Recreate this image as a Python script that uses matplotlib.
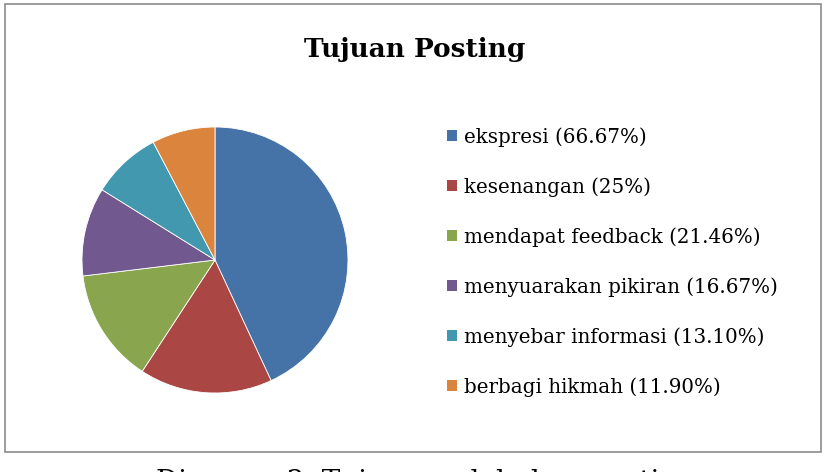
import matplotlib.pyplot as plt
from matplotlib.patches import Rectangle, Patch

# Data
labels = ['ekspresi (66.67%)', 'kesenangan (25%)', 'mendapat feedback (21.46%)',
          'menyuarakan pikiran (16.67%)', 'menyebar informasi (13.10%)', 'berbagi hikmah (11.90%)']
values = [66.67, 25, 21.46, 16.67, 13.10, 11.90]
colors = ['#4572A7', '#AA4643', '#89A54E', '#71588F', '#4198AF', '#DB843D']

W, H = 828, 472
fig = plt.figure(figsize=(W / 100, H / 100), dpi=100)
plt.rcParams['font.family'] = ['DejaVu Serif']

# chart border
fig.patches.append(Rectangle((5 / W, 1 - 452 / H), 816 / W, 448 / H, transform=fig.transFigure,
                             fill=False, edgecolor='#8c8c8c', linewidth=1.2))

# pie
cx, cy, r = 215, 260, 133
ax = fig.add_axes([(cx - r) / W, (H - cy - r) / H, 2 * r / W, 2 * r / H])
wedges, _ = ax.pie(values, colors=colors, startangle=90, counterclock=False,
                   wedgeprops=dict(edgecolor='white', linewidth=0.6))
ax.set_xlim(-1, 1)
ax.set_ylim(-1, 1)
ax.set_aspect('equal')

fig.text(415 / W, 1 - 49 / H, 'Tujuan Posting', ha='center', va='center',
         fontsize=19, fontweight='bold')

handles = [Patch(facecolor=c, edgecolor='none') for c in colors]
fig.legend(handles, labels, loc='upper left', bbox_to_anchor=(439 / W, 1 - 119 / H),
           frameon=False, fontsize=14.3, handlelength=0.5, handleheight=0.5,
           handletextpad=0.35, labelspacing=1.53, borderaxespad=0)

# caption, cut off at the bottom edge as in the source
fig.text(426 / W, 1 - 469 / H, 'Diagram 3. Tujuan melakukan posting', ha='center', va='top',
         fontsize=20)

fig.savefig('out.png', dpi=100)
